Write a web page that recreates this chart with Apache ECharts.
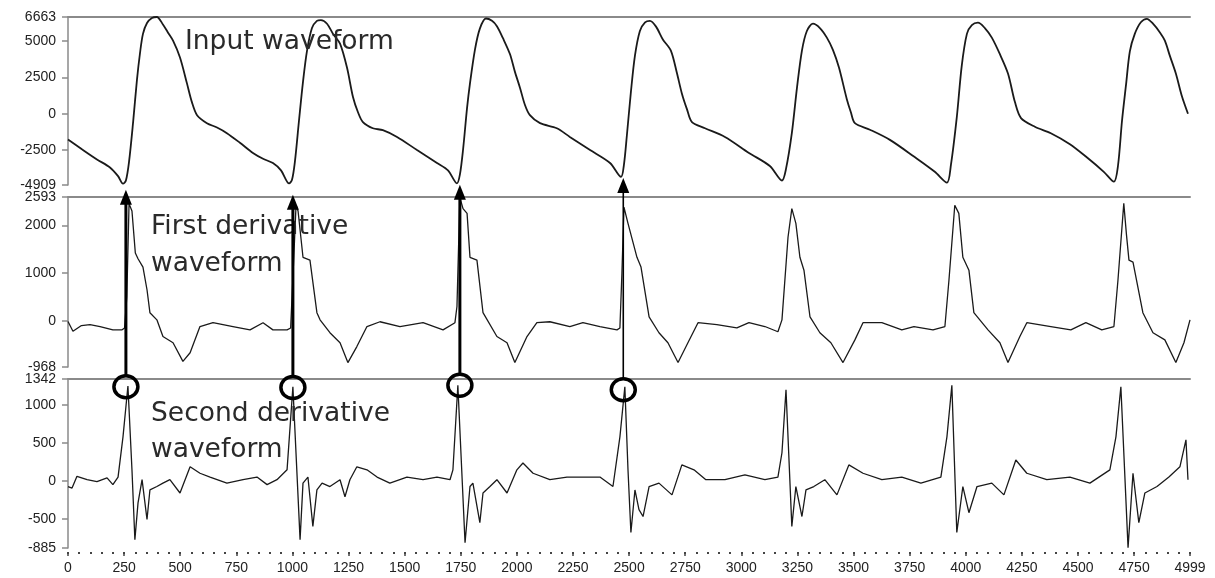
<!DOCTYPE html>
<html><head><meta charset="utf-8">
<script src="https://cdn.jsdelivr.net/npm/echarts@6/dist/echarts.min.js"></script>
<style>html,body{margin:0;padding:0;background:#fff}#c{width:1215px;height:578px}</style>
</head><body><div id="c"></div>
<script>
// ---- tick labels ----
const xTickLabels = [0,250,500,750,1000,1250,1500,1750,2000,2250,2500,2750,3000,3250,3500,3750,4000,4250,4500,4750,4999];
const inputTicks = [6663,5000,2500,0,-2500,-4909];
const firstTicks = [2593,2000,1000,0,-968];
const secondTicks = [1342,1000,500,0,-500,-885];

// ---- series values [sample, value] ----
const inputWave = [[0,-1780],[62,-2450],[129,-3150],[187,-3700],[223,-4300],[245,-4820],[258,-4600],[272,-3300],[290,-600],[307,2300],[321,4200],[334,5500],[352,6250],[374,6600],[396,6663],[423,6150],[445,5600],[468,5030],[499,3870],[530,2090],[552,800],[575,-100],[619,-650],[664,-950],[708,-1340],[766,-2000],[824,-2700],[869,-3100],[913,-3400],[949,-3900],[985,-4800],
[998,-4550],[1011,-3300],[1029,-500],[1047,2200],[1065,4350],[1087,5900],[1109,6400],[1127,6450],[1154,6200],[1181,5500],[1212,4830],[1243,3180],[1270,1130],[1292,100],[1314,-580],[1358,-1000],[1403,-1130],[1466,-1600],[1555,-2500],[1644,-3390],[1693,-3900],[1733,-4800],
[1746,-4200],[1760,-2500],[1778,400],[1791,2090],[1813,4400],[1835,5860],[1862,6560],[1889,6400],[1911,6030],[1938,5200],[1969,4110],[1991,2900],[2014,1780],[2036,600],[2058,-100],[2103,-650],[2178,-1000],[2236,-1600],[2326,-2500],[2415,-3390],[2464,-4350],
[2477,-3500],[2490,-1500],[2508,1500],[2526,4000],[2548,5700],[2571,6300],[2593,6400],[2620,6000],[2651,5100],[2686,4350],[2713,2800],[2735,1400],[2758,300],[2780,-580],[2838,-1000],[2927,-1600],[3034,-2700],[3127,-3600],[3181,-4600],
[3199,-3800],[3225,-1340],[3248,1800],[3270,4350],[3292,5700],[3319,6200],[3350,5900],[3381,5240],[3408,4400],[3435,3180],[3470,1000],[3488,100],[3506,-650],[3573,-1100],[3662,-1800],[3769,-2950],[3862,-4000],[3916,-4750],
[3934,-3500],[3960,-230],[3982,3300],[4005,5500],[4027,6100],[4054,6270],[4085,5900],[4116,5240],[4152,4100],[4188,2770],[4219,800],[4246,-300],[4308,-900],[4379,-1340],[4464,-2100],[4535,-2950],[4615,-4000],[4660,-4680],
[4678,-3600],[4696,-500],[4714,2000],[4731,4300],[4753,5500],[4780,6300],[4807,6540],[4834,6200],[4865,5600],[4887,5030],[4909,4000],[4936,2770],[4963,1200],[4990,0]];

const firstDeriv = [[0,-15],[22,-220],[60,-100],[98,-80],[143,-120],[200,-190],[241,-190],[252,-150],[262,500],[272,2450],[285,2300],[300,1420],[312,1300],[334,1125],[352,650],[365,170],[396,20],[423,-330],[468,-460],[512,-850],[544,-670],[588,-120],[646,-40],[735,-120],[811,-190],[869,-40],[913,-190],[976,-190],
[992,-150],[1002,900],[1016,2420],[1025,2300],[1047,1330],[1078,1270],[1109,170],[1123,20],[1167,-250],[1212,-460],[1247,-875],[1287,-540],[1332,-120],[1390,-20],[1479,-120],[1582,-40],[1671,-190],[1724,-40],
[1733,300],[1746,2580],[1760,2350],[1778,2250],[1791,1330],[1822,1270],[1849,170],[1911,-330],[1956,-460],[1991,-875],[2045,-330],[2089,-40],[2147,-20],[2236,-120],[2294,-40],[2370,-120],[2446,-190],[2459,-150],
[2468,1000],[2477,2380],[2495,2040],[2535,1330],[2553,1125],[2589,80],[2633,-250],[2673,-460],[2718,-875],[2762,-460],[2807,-40],[2891,-80],[2980,-150],[3034,-40],[3105,-120],[3163,-230],
[3181,20],[3208,1750],[3225,2350],[3243,2040],[3261,1330],[3279,1060],[3306,80],[3350,-250],[3399,-460],[3453,-875],[3506,-400],[3542,-40],[3626,-40],[3715,-190],[3769,-120],[3854,-190],[3907,-120],
[3925,850],[3951,2420],[3969,2250],[3987,1330],[4014,1060],[4036,170],[4099,-190],[4152,-460],[4188,-875],[4241,-330],[4272,-40],[4379,-120],[4468,-190],[4535,-40],[4606,-190],[4660,-120],
[4678,850],[4704,2460],[4716,1800],[4727,1270],[4745,1230],[4789,170],[4834,-250],[4887,-400],[4936,-875],[4972,-460],[4999,20]];

const secondDeriv = [[0,-75],[18,-95],[40,60],[85,15],[129,-10],[174,40],[200,-50],[223,50],[245,580],[267,1250],[285,145],[298,-775],[312,-290],[330,15],[352,-510],[365,-120],[396,-75],[423,-30],[454,15],[499,-160],[544,185],[588,100],[633,50],[708,-30],[780,15],[842,50],[887,-50],[931,15],[976,145],
[1002,1240],[1034,-775],[1047,-30],[1069,50],[1091,-600],[1109,-120],[1132,-30],[1167,-75],[1212,15],[1234,-210],[1256,15],[1287,185],[1332,145],[1377,50],[1434,-30],[1510,50],[1582,15],[1644,50],[1702,15],
[1715,145],[1737,1260],[1769,-815],[1791,-75],[1804,-30],[1835,-550],[1849,-160],[1880,-75],[1911,15],[1956,-160],[2000,145],[2027,235],[2072,100],[2147,15],[2223,50],[2294,50],[2370,50],[2428,-75],
[2459,580],[2481,1240],[2495,145],[2508,-680],[2526,-120],[2544,-380],[2562,-470],[2589,-75],[2633,-30],[2691,-185],[2735,210],[2789,145],[2842,15],[2927,15],[3016,80],[3105,15],[3163,50],
[3181,370],[3199,1200],[3225,-600],[3243,-75],[3270,-470],[3288,-120],[3323,-75],[3372,15],[3426,-185],[3479,210],[3542,100],[3626,15],[3715,50],[3800,-30],[3889,50],
[3916,580],[3938,1260],[3960,-680],[3987,-75],[4014,-420],[4050,-75],[4116,-30],[4170,-185],[4223,275],[4272,100],[4361,15],[4464,50],[4553,-30],[4642,145],
[4669,580],[4691,1240],[4723,-880],[4745,100],[4771,-550],[4798,-160],[4852,-75],[4905,50],[4954,185],[4981,540],[4990,15]];

// ---- annotation markers (sample position, arrow tip on input axis, circle centre on 2nd-derivative axis) ----
const markerX = [258, 1002, 1746, 2474];
const markerTipInput = [-5240, -5580, -4900, -4420];
const markerCircleSecond = [1240, 1230, 1260, 1200];
const markerWidth = [3, 3, 3, 1.6];

const labelFont = "'Liberation Sans', Arial, sans-serif";
const titleFont = "'DejaVu Sans', sans-serif";
const axisGray = '#8a8a8a';
const numFmt = v => String(v);

const chart = echarts.init(document.getElementById('c'));

function yAx(grid, min, max, ticks) {
  return {
    type: 'value', gridIndex: grid, min: min, max: max,
    axisLine: {show: true, onZero: false, lineStyle: {color: axisGray, width: 1.5}},
    axisTick: {show: true, customValues: ticks, length: 6, lineStyle: {color: axisGray, width: 1.5}},
    axisLabel: {customValues: ticks, formatter: numFmt, fontSize: 14, color: '#222', fontFamily: labelFont, margin: 12},
    splitLine: {show: false}
  };
}
function topLineX(grid) {
  return {
    type: 'value', gridIndex: grid, min: 0, max: 4999, position: 'top',
    axisLine: {show: true, onZero: false, lineStyle: {color: axisGray, width: 2}},
    axisTick: {show: false}, axisLabel: {show: false}, splitLine: {show: false}
  };
}
const xMinor = [];
for (let v = 0; v < 4999; v += 50) xMinor.push(v);
xMinor.push(4999);

const gridL = 68, gridR = 25;
chart.setOption({
  animation: false,
  backgroundColor: '#fff',
  grid: [
    {left: gridL, right: gridR, top: 17, height: 168},
    {left: gridL, right: gridR, top: 197, height: 170},
    {left: gridL, right: gridR, top: 379, height: 169},
    {left: gridL, right: gridR, top: 551, height: 1}
  ],
  xAxis: [
    topLineX(0), topLineX(1), topLineX(2),
    {type: 'value', gridIndex: 3, min: 0, max: 4999, position: 'bottom',
     axisLine: {show: false, onZero: false},
     axisTick: {show: true, customValues: xMinor, length: 2, lineStyle: {color: '#444', width: 2}},
     axisLabel: {show: false}, splitLine: {show: false}},
    {type: 'value', gridIndex: 3, min: 0, max: 4999, position: 'bottom',
     axisLine: {show: false, onZero: false},
     axisTick: {show: true, customValues: xTickLabels, length: 4, lineStyle: {color: '#444', width: 1.5}},
     axisLabel: {customValues: xTickLabels, formatter: numFmt, fontSize: 14, color: '#222', fontFamily: labelFont, margin: 9},
     splitLine: {show: false}}
  ],
  yAxis: [
    yAx(0, -4909, 6663, inputTicks),
    yAx(1, -968, 2593, firstTicks),
    yAx(2, -885, 1342, secondTicks),
    {type: 'value', gridIndex: 3, show: false, min: 0, max: 1}
  ],
  series: [
    {type: 'line', xAxisIndex: 0, yAxisIndex: 0, data: inputWave, showSymbol: false,
     smooth: 0.3, lineStyle: {color: '#1a1a1a', width: 1.8}},
    {type: 'line', xAxisIndex: 1, yAxisIndex: 1, data: firstDeriv, showSymbol: false,
     smooth: false, lineStyle: {color: '#1a1a1a', width: 1.3}},
    {type: 'line', xAxisIndex: 2, yAxisIndex: 2, data: secondDeriv, showSymbol: false,
     smooth: false, lineStyle: {color: '#1a1a1a', width: 1.3}}
  ]
});

const g = [];
const txt = (t, x, y) => ({type: 'text', left: x, top: y, z: 50,
  style: {text: t, fill: '#2a2a2a', font: '26.5px ' + titleFont}});
g.push(txt('Input waveform', 185, 29));
g.push(txt('First derivative', 151, 214));
g.push(txt('waveform', 151, 251));
g.push(txt('Second derivative', 151, 401));
g.push(txt('waveform', 151, 437));

for (let i = 0; i < markerX.length; i++) {
  const tip = chart.convertToPixel({xAxisIndex: 0, yAxisIndex: 0}, [markerX[i], markerTipInput[i]]);
  const cen = chart.convertToPixel({xAxisIndex: 2, yAxisIndex: 2}, [markerX[i], markerCircleSecond[i]]);
  const x = tip[0];
  const ry = 11, rx = 12;
  g.push({type: 'line', z: 60, shape: {x1: x, y1: cen[1] - ry, x2: x, y2: tip[1] + 12},
    style: {stroke: '#000', lineWidth: markerWidth[i]}});
  g.push({type: 'polygon', z: 60, shape: {points: [[x, tip[1]], [x - 6, tip[1] + 15], [x + 6, tip[1] + 15]]},
    style: {fill: '#000'}});
  g.push({type: 'ellipse', z: 60, shape: {cx: cen[0], cy: cen[1], rx: rx, ry: ry},
    style: {stroke: '#000', lineWidth: 3.5, fill: null}});
}
chart.setOption({graphic: g});
</script>
</body></html>
